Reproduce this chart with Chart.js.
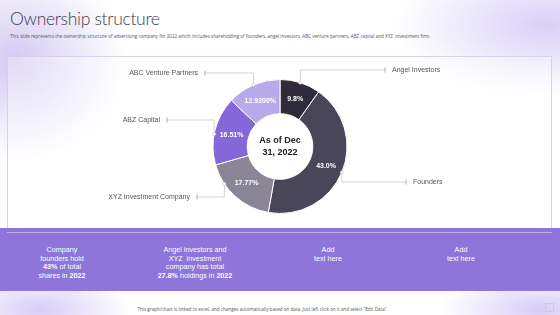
<!DOCTYPE html>
<html><head><meta charset="utf-8">
<script src="https://cdn.jsdelivr.net/npm/chart.js@4/dist/chart.umd.min.js"></script>
<style>
html,body{margin:0;padding:0;}
body{width:560px;height:315px;position:relative;overflow:hidden;font-family:"Open Sans",Lato,sans-serif;
background:
 radial-gradient(ellipse 110px 100px at 15px 60px, rgba(200,188,240,0.8), rgba(255,255,255,0) 100%),
 radial-gradient(ellipse 150px 70px at 545px 25px, rgba(210,200,245,0.85), rgba(255,255,255,0) 100%),
 radial-gradient(ellipse 90px 40px at 40px 310px, rgba(205,192,245,0.8), rgba(255,255,255,0) 100%),
 radial-gradient(ellipse 100px 40px at 540px 310px, rgba(205,192,245,0.8), rgba(255,255,255,0) 100%),
 #ffffff;}
#title{position:absolute;left:10px;top:8px;font-family:Lato,sans-serif;font-weight:300;font-size:17.5px;color:#3b3b4b;letter-spacing:-0.3px;}
#sub{position:absolute;left:10px;top:33px;font-size:4.6px;color:#555;white-space:nowrap;}
#box{position:absolute;left:7px;top:56px;width:545px;height:177px;border:1px solid #d6d0ea;background:rgba(255,255,255,0.35);box-sizing:border-box;}
#band{position:absolute;left:0;top:228px;width:560px;height:63px;background:#8d75d9;}
#bandline{position:absolute;left:7px;top:232px;width:545px;height:1px;background:rgba(220,210,250,0.6);}
.col{position:absolute;top:246px;width:120px;margin-left:-60px;text-align:center;color:#fff;font-size:7.2px;line-height:8.5px;font-family:"Liberation Sans",Arial,sans-serif;}
.col b{font-weight:bold;}
#foot{position:absolute;left:0;width:525px;top:306px;text-align:center;font-size:4.6px;color:#555;}
#sq{position:absolute;left:545px;top:303px;width:9px;height:9px;border:1px solid #cfc6ee;box-sizing:border-box;}
#wrap{position:absolute;left:8px;top:57px;width:544px;height:171px;}
</style></head>
<body>
<div id="title">Ownership structure</div>
<div id="sub">This slide represents the ownership structure of advertising company for 2022 which includes shareholding of founders, angel investors, ABC venture partners, ABZ capital and XYZ&nbsp; investment firm.</div>
<div id="box"></div>
<div id="band"></div>
<div id="bandline"></div>
<div class="col" style="left:62px">Company<br>founders hold<br><b>43%</b> of total<br>shares in <b>2022</b></div>
<div class="col" style="left:195px">Angel investors and<br>XYZ&nbsp; investment<br>company has total<br><b>27.8%</b> holdings in <b>2022</b></div>
<div class="col" style="left:328px">Add<br>text here</div>
<div class="col" style="left:461px">Add<br>text here</div>
<div id="foot">This graph/chart is linked to excel, and changes automatically based on data. Just left click on it and select “Edit Data”.</div>
<div id="sq"></div>
<div id="wrap"><canvas id="c"></canvas></div>
<script>
const categories = ["Angel Investors","Founders","XYZ Investment Company","ABZ Capital","ABC Venture Partners"];
const shares = [9.8, 43.0, 17.77, 16.51, 12.92];
const sliceLabels = ["9.8%","43.0%","17.77%","16.51%","12.9200%"];
const centerLines = ["As of Dec","31, 2022"];

const colors = ["#2f2b3b","#4a4659","#8a8698","#8467d8","#b8a9eb"];
// callout layout (canvas px): label row y, tick x, side
const callouts = [
  {y:13, tickX:377, side:"right", frac:0.5},
  {y:125, tickX:398, side:"right", frac:0.5},
  {y:140, tickX:189, side:"left", frac:0.72},
  {y:63, tickX:159, side:"left", frac:0.45},
  {y:16, tickX:197, side:"left", frac:0.5}
];

const calloutPlugin = {
  id:"callouts",
  afterDatasetsDraw(chart){
    const ctx = chart.ctx;
    const meta = chart.getDatasetMeta(0);
    meta.data.forEach((arc,i)=>{
      const p = arc.getProps(["x","y","startAngle","endAngle","innerRadius","outerRadius"],true);
      const mid = (p.startAngle+p.endAngle)/2;
      const rm = (p.innerRadius+p.outerRadius)/2;
      ctx.save();
      ctx.fillStyle="#ffffff";
      ctx.font="bold 7px 'Liberation Sans', Arial, sans-serif";
      ctx.textAlign="center";ctx.textBaseline="middle";
      ctx.fillText(sliceLabels[i], p.x+Math.cos(mid)*rm, p.y+Math.sin(mid)*rm);
      const c = callouts[i];
      const a = p.startAngle + (p.endAngle-p.startAngle)*c.frac;
      const px = p.x+Math.cos(a)*p.outerRadius, py = p.y+Math.sin(a)*p.outerRadius;
      ctx.strokeStyle="#c9c9cf";ctx.lineWidth=0.8;
      ctx.beginPath();ctx.moveTo(px,py);ctx.lineTo(px,c.y);ctx.lineTo(c.tickX,c.y);ctx.stroke();
      ctx.beginPath();ctx.moveTo(c.tickX,c.y-2.5);ctx.lineTo(c.tickX,c.y+2.5);ctx.strokeStyle="#999";ctx.stroke();
      ctx.beginPath();ctx.arc(px,py,1.6,0,Math.PI*2);ctx.fillStyle="#fff";ctx.fill();
      ctx.strokeStyle="#bbb";ctx.lineWidth=0.5;ctx.stroke();
      ctx.fillStyle="#555";
      ctx.font="7px 'Liberation Sans', Arial, sans-serif";
      ctx.textBaseline="middle";
      if(c.side==="right"){ctx.textAlign="left";ctx.fillText(categories[i], c.tickX+7, c.y);}
      else{ctx.textAlign="right";ctx.fillText(categories[i], c.tickX-7, c.y);}
      ctx.restore();
    });
    const a0 = meta.data[0];
    ctx.save();
    ctx.fillStyle="#222";ctx.font="bold 9px 'Liberation Sans', Arial, sans-serif";
    ctx.textAlign="center";ctx.textBaseline="middle";
    ctx.fillText(centerLines[0], a0.x, a0.y-6);
    ctx.fillText(centerLines[1], a0.x, a0.y+6.5);
    ctx.restore();
  }
};

new Chart(document.getElementById("c"),{
  type:"doughnut",
  data:{labels:categories,datasets:[{data:shares,backgroundColor:colors,borderColor:"#ffffff",borderWidth:1}]},
  options:{
    responsive:true,maintainAspectRatio:false,animation:false,
    cutout:"49%",
    layout:{padding:{top:22,bottom:14}},
    plugins:{legend:{display:false},tooltip:{enabled:false}}
  },
  plugins:[calloutPlugin]
});
</script>
</body></html>
